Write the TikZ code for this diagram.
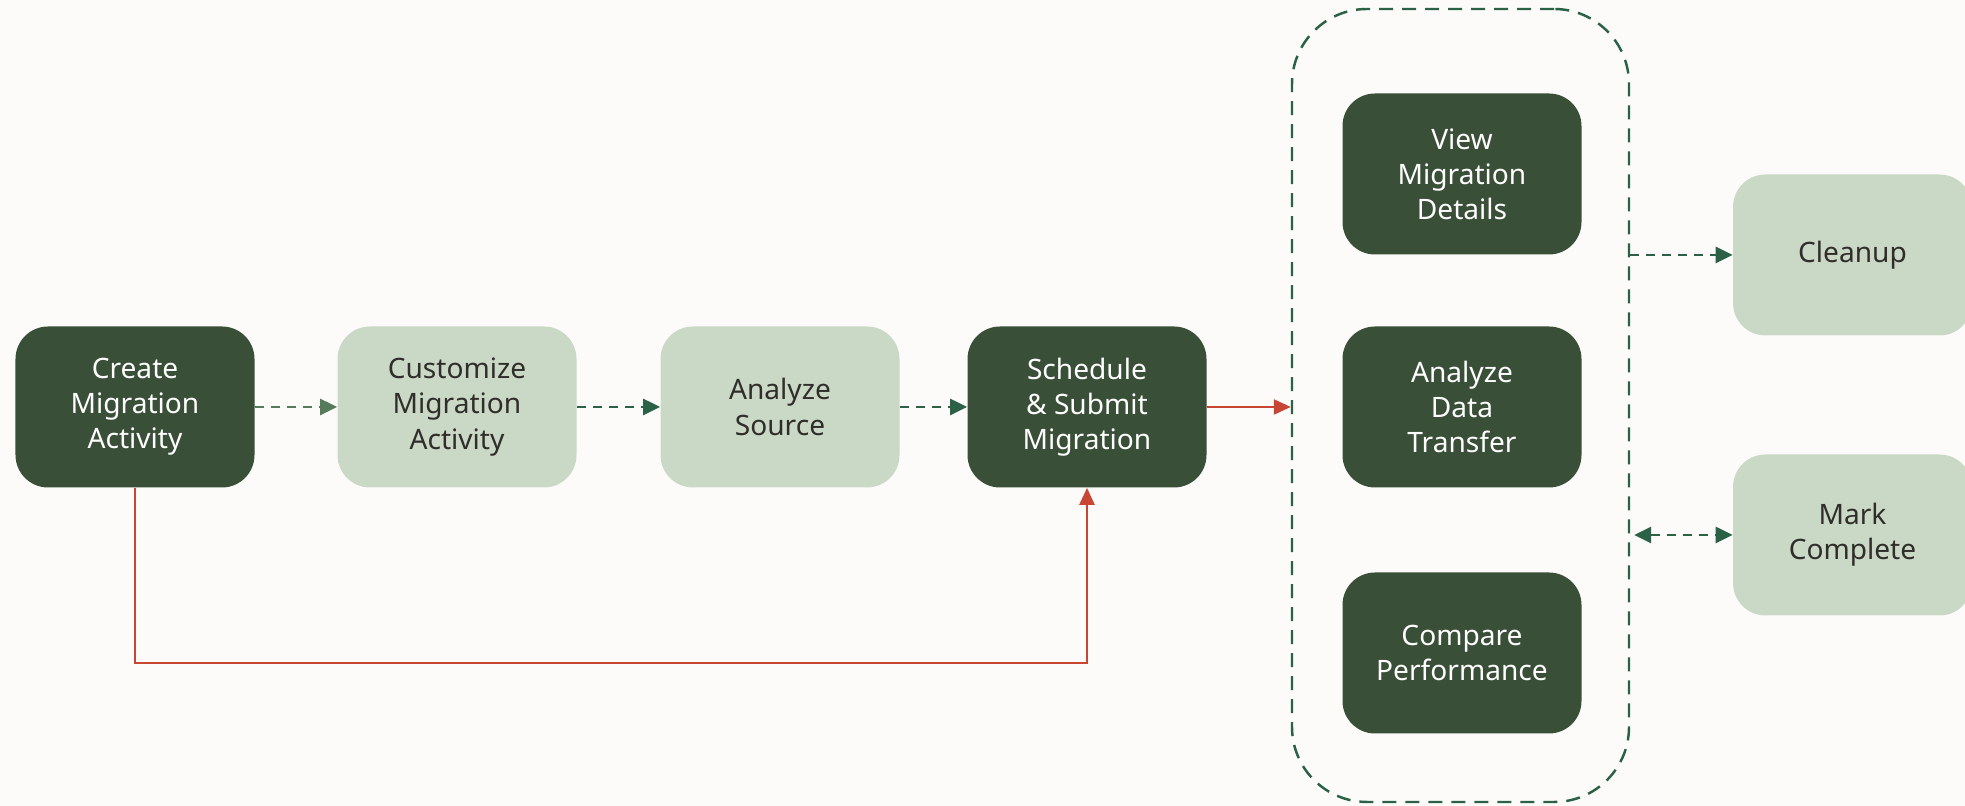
\documentclass[tikz,border=0pt]{standalone}
\usepackage{fontspec}
\setmainfont{Noto Sans}
\usepackage{tikz}
\usetikzlibrary{arrows.meta,positioning}
\definecolor{bgcol}{HTML}{FCFBFA}
\definecolor{darkbox}{HTML}{3A4F37}
\definecolor{lightbox}{HTML}{C9D9C6}
\definecolor{darktext}{HTML}{312D2A}
\definecolor{pine}{HTML}{2B6247}
\definecolor{sage}{HTML}{557B5B}
\definecolor{oraclered}{HTML}{C74634}

\tikzset{
  stepdark/.style={rectangle, rounded corners=0.65cm, fill=darkbox, text=white,
    minimum width=4.78cm, minimum height=3.22cm, align=center,
    font=\fontsize{16}{20}\selectfont},
  steplight/.style={stepdark, fill=lightbox, text=darktext},
  groupbox/.style={rectangle, rounded corners=1.5cm, draw=pine, line width=1.4pt,
    dash pattern=on 0.28cm off 0.18cm},
  flow/.style={draw=pine, line width=1.6pt, dash pattern=on 0.18cm off 0.14cm,
    -{Triangle[length=0.34cm,width=0.32cm]}},
  redflow/.style={draw=oraclered, line width=1.4pt,
    -{Triangle[length=0.34cm,width=0.3cm]}}
}

\begin{document}
\begin{tikzpicture}[scale=1]
            \fill[bgcol] (0,0) rectangle (39.3,16.12);
            \useasboundingbox (0,0) rectangle (39.3,16.12);

            % main row
            \node[stepdark]  (create)   at (2.70,7.98)  {Create\\Migration\\Activity};
            \node[steplight] (custom)   at (9.14,7.98)  {Customize\\Migration\\Activity};
            \node[steplight] (analyze)  at (15.60,7.98) {Analyze\\Source};
            \node[stepdark]  (schedule) at (21.74,7.98) {Schedule\\\& Submit\\Migration};

            % monitoring group
            \node[groupbox, minimum width=6.74cm, minimum height=15.86cm] (grp) at (29.21,8.01) {};
            \node[stepdark] (details)  at (29.24,12.64) {View\\Migration\\Details};
            \node[stepdark] (transfer) at (29.24,7.98)  {Analyze\\Data\\Transfer};
            \node[stepdark] (compare)  at (29.24,3.06)  {Compare\\Performance};

            % final steps
            \node[steplight] (cleanup) at (37.05,11.02) {Cleanup};
            \node[steplight] (mark)    at (37.05,5.42)  {Mark\\Complete};

            \coordinate (skip) at (2.70,2.86);

            \draw[flow, draw=sage] (create) -- (custom);
            \draw[flow] (custom) -- (analyze);
            \draw[flow] (analyze) -- (schedule);
            \draw[redflow] (schedule.east) -- (grp.west |- schedule.east);
            \draw[redflow] (create.south) -- (skip) -| (schedule.south);
            \draw[flow] (grp.east |- cleanup.west) -- (cleanup.west);
            \draw[flow, {Triangle[length=0.34cm,width=0.32cm]}-{Triangle[length=0.34cm,width=0.32cm]}]
                ([xshift=0.08cm]grp.east |- mark.west) -- (mark.west);
            \end{tikzpicture}
\end{document}
